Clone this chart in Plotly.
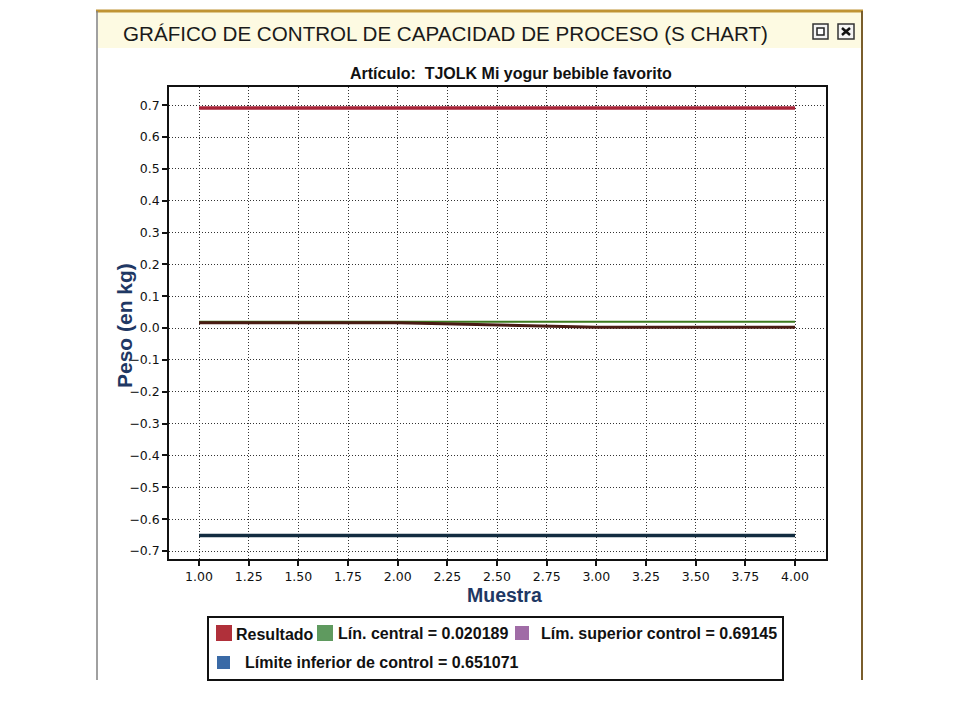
import plotly.graph_objects as go

# ---------------- data ----------------
muestra = [1, 2, 3, 4]
resultado = [0.017, 0.017, 0.003, 0.003]
lin_central = [0.020189, 0.020189, 0.020189, 0.020189]
lim_superior = [0.69145, 0.69145, 0.69145, 0.69145]
lim_inferior = [-0.651071, -0.651071, -0.651071, -0.651071]

x_ticks = [1.0, 1.25, 1.5, 1.75, 2.0, 2.25, 2.5, 2.75, 3.0, 3.25, 3.5, 3.75, 4.0]
x_ticklabels = ["1.00", "1.25", "1.50", "1.75", "2.00", "2.25", "2.50",
                "2.75", "3.00", "3.25", "3.50", "3.75", "4.00"]
y_ticks = [0.7, 0.6, 0.5, 0.4, 0.3, 0.2, 0.1, 0.0,
           -0.1, -0.2, -0.3, -0.4, -0.5, -0.6, -0.7]
y_ticklabels = ["0.7", "0.6", "0.5", "0.4", "0.3", "0.2", "0.1", "0.0",
                "−0.1", "−0.2", "−0.3", "−0.4", "−0.5", "−0.6", "−0.7"]

legend_labels = ["Resultado", "Lín. central = 0.020189",
                 "Lím. superior control = 0.69145",
                 "Límite inferior de control = 0.651071"]
legend_colors = ["#b0303a", "#5f9a5f", "#a06ca6", "#3a6aa6"]

title_text = "GRÁFICO DE CONTROL DE CAPACIDAD DE PROCESO (S CHART)"
subtitle_text = "Artículo:  TJOLK Mi yogur bebible favorito"
x_title = "Muestra"
y_title = "Peso (en kg)"

# ---------------- layout geometry (pixels) ----------------
W, H = 960, 720
PL, PR, PT, PB = 169, 826, 87, 559


def px(x):
    return (x - PL) / (PR - PL)


def py(y):
    return (PB - y) / (PB - PT)


fig = go.Figure()

fig.add_trace(go.Scatter(x=muestra, y=lim_superior, mode="lines",
                         line=dict(color="#a82438", width=3.5),
                         name=legend_labels[2], showlegend=False))
fig.add_trace(go.Scatter(x=muestra, y=lin_central, mode="lines",
                         line=dict(color="#3d7a1e", width=2),
                         name=legend_labels[1], showlegend=False))
fig.add_trace(go.Scatter(x=muestra, y=resultado, mode="lines",
                         line=dict(color="#4a1c14", width=3),
                         name=legend_labels[0], showlegend=False))
fig.add_trace(go.Scatter(x=muestra, y=lim_inferior, mode="lines",
                         line=dict(color="#122c40", width=3.5),
                         name=legend_labels[3], showlegend=False))

shapes = []
annotations = []

# window frame
shapes.append(dict(type="rect", xref="paper", yref="paper",
                   x0=px(98), x1=px(861), y0=py(48), y1=py(12),
                   fillcolor="#fdfae2", line=dict(width=0), layer="below"))
shapes.append(dict(type="line", xref="paper", yref="paper",
                   x0=px(96), x1=px(863), y0=py(11), y1=py(11),
                   line=dict(color="#c09434", width=3)))
shapes.append(dict(type="line", xref="paper", yref="paper",
                   x0=px(97), x1=px(97), y0=py(11), y1=py(680),
                   line=dict(color="#808080", width=1.5)))
shapes.append(dict(type="line", xref="paper", yref="paper",
                   x0=px(862), x1=px(862), y0=py(11), y1=py(680),
                   line=dict(color="#7a5e2c", width=2)))

# window icons
shapes.append(dict(type="rect", xref="paper", yref="paper",
                   x0=px(813), x1=px(828), y0=py(39), y1=py(24),
                   fillcolor="#f4f4f4", line=dict(color="#333333", width=1.5)))
shapes.append(dict(type="rect", xref="paper", yref="paper",
                   x0=px(817), x1=px(824), y0=py(35), y1=py(28),
                   fillcolor="#ffffff", line=dict(color="#222222", width=1.5)))
shapes.append(dict(type="rect", xref="paper", yref="paper",
                   x0=px(838), x1=px(854), y0=py(39), y1=py(24),
                   fillcolor="#f4f4f4", line=dict(color="#333333", width=1.5)))
shapes.append(dict(type="line", xref="paper", yref="paper",
                   x0=px(842), x1=px(850), y0=py(28), y1=py(35),
                   line=dict(color="#111111", width=2.5)))
shapes.append(dict(type="line", xref="paper", yref="paper",
                   x0=px(842), x1=px(850), y0=py(35), y1=py(28),
                   line=dict(color="#111111", width=2.5)))

# titles
annotations.append(dict(text=title_text, xref="paper", yref="paper",
                        x=px(445), y=py(34), xanchor="center", yanchor="middle",
                        showarrow=False,
                        font=dict(family="Liberation Sans, Arial", size=20.6,
                                  color="#1a1a1a")))
annotations.append(dict(text="<b>" + subtitle_text + "</b>", xref="paper",
                        yref="paper", x=px(511), y=py(73), xanchor="center",
                        yanchor="middle", showarrow=False,
                        font=dict(family="Liberation Sans, Arial", size=16,
                                  color="#111111")))

# axis titles
annotations.append(dict(text="<b>" + x_title + "</b>", xref="paper",
                        yref="paper", x=px(504), y=py(595), xanchor="center",
                        yanchor="middle", showarrow=False,
                        font=dict(family="Liberation Sans, Arial", size=19.5,
                                  color="#1f3864")))
annotations.append(dict(text="<b>" + y_title + "</b>", xref="paper",
                        yref="paper", x=px(124), y=py(326), xanchor="center",
                        yanchor="middle", showarrow=False, textangle=-90,
                        font=dict(family="Liberation Sans, Arial", size=21,
                                  color="#1f3864")))

# legend box
shapes.append(dict(type="rect", xref="paper", yref="paper",
                   x0=px(208), x1=px(783), y0=py(680), y1=py(617),
                   fillcolor="#ffffff", line=dict(color="#111111", width=2)))
sq = [(216, 625, 16), (317, 625, 16), (515, 626, 14), (217, 656, 13)]
txt = [(234, 634), (336, 633), (539, 633), (243, 662)]
for (sx, sy, s), (tx, ty), lab, col in zip(sq, txt, legend_labels, legend_colors):
    shapes.append(dict(type="rect", xref="paper", yref="paper",
                       x0=px(sx), x1=px(sx + s), y0=py(sy + s), y1=py(sy),
                       fillcolor=col, line=dict(width=0)))
    annotations.append(dict(text="<b>" + lab + "</b>", xref="paper", yref="paper",
                            x=px(tx), y=py(ty), xanchor="left", yanchor="middle",
                            showarrow=False,
                            font=dict(family="Liberation Sans, Arial", size=16,
                                      color="#111111")))

axis_common = dict(
    showline=True, linecolor="#111111", linewidth=1.5, mirror=True,
    ticks="outside", ticklen=5, tickwidth=1.5, tickcolor="#111111",
    showgrid=True, gridcolor="#333333", gridwidth=1, griddash="1px,2px",
    zeroline=False,
    tickfont=dict(family="DejaVu Sans", size=12.5, color="#111111"),
)

fig.update_layout(
    width=W, height=H,
    margin=dict(l=PL, r=W - PR, t=PT, b=H - PB, pad=0),
    paper_bgcolor="#ffffff", plot_bgcolor="#ffffff",
    showlegend=False,
    shapes=shapes, annotations=annotations,
    xaxis=dict(range=[0.849, 4.156], tickvals=x_ticks, ticktext=x_ticklabels,
               **axis_common),
    yaxis=dict(range=[-0.725, 0.757], tickvals=y_ticks, ticktext=y_ticklabels,
               **axis_common),
)

fig.write_html("out.html", config={"displayModeBar": False},
               post_script="document.body.style.margin='0';")
